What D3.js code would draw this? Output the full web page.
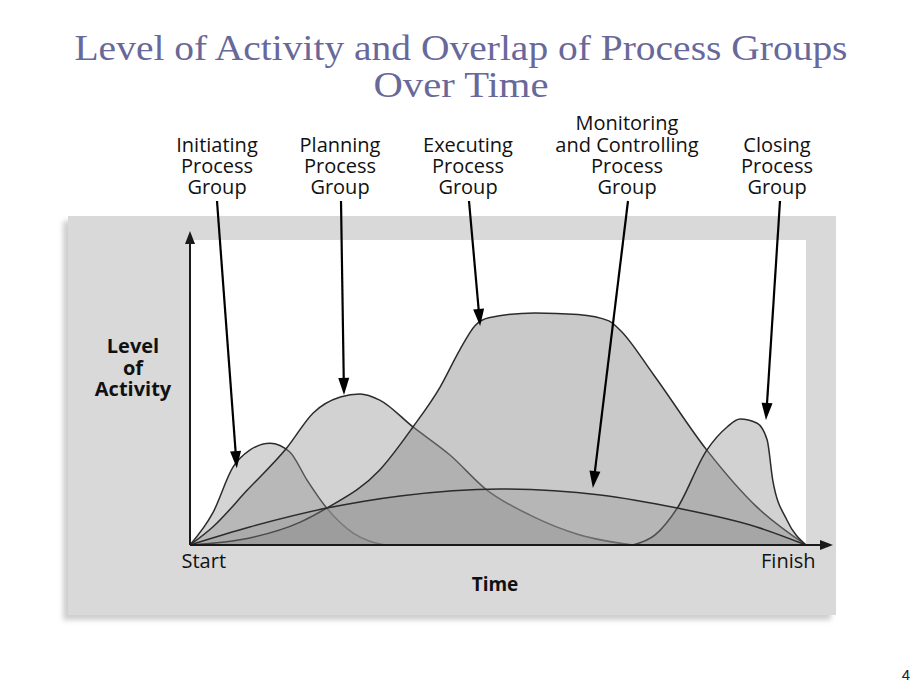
<!DOCTYPE html>
<html><head><meta charset="utf-8">
<script src="https://cdn.jsdelivr.net/npm/d3@7"></script>
<style>body{margin:0;background:#fff}</style></head>
<body><svg id="c" width="920" height="690"></svg>
<script>
// ---------------- data ----------------
const titleLines = ["Level of Activity and Overlap of Process Groups", "Over Time"];
const groupNames = ["Initiating", "Planning", "Executing", "Closing", "Monitoring"];
const labelLines = [
  ["Initiating", "Process", "Group"],
  ["Planning", "Process", "Group"],
  ["Executing", "Process", "Group"],
  ["Monitoring", "and Controlling", "Process", "Group"],
  ["Closing", "Process", "Group"]
];
const yAxisLabel = ["Level", "of", "Activity"];
const xAxisLabel = "Time";
const xTickLabels = ["Start", "Finish"];
const pageNumber = "4";

// time (0 = Start, 100 = Finish) and level of activity (0..100)
const initiatingTime  = [0, 3.7, 7.0, 9.7, 13.0, 16.2, 19.0, 22.2, 26.5, 31.7];
const initiatingLevel = [0, 10.5, 25.6, 31.1, 33.4, 30.5, 21.3, 12.1, 3.9, 0];

const planningTime  = [0, 3.7, 9.3, 15.7, 20.0, 24.4, 27.6, 30.8, 36.2, 42.2, 48.2, 55.2, 63.3, 71.9];
const planningLevel = [0, 5.9, 18.0, 31.8, 43.3, 48.5, 49.5, 47.5, 38.7, 29.5, 18.0, 9.8, 3.3, 0];

const executingTime  = [0, 9.7, 17.9, 22.2, 30.8, 36.2, 40.6, 43.8, 46.3, 48.5, 56.0, 63.0, 68.0, 69.8, 75.2, 83.9, 92.0, 100];
const executingLevel = [0, 2.3, 7.5, 12.1, 24.6, 38.7, 51.8, 64.0, 72.0, 74.5, 76.1, 75.6, 73.5, 70.5, 56.0, 31.1, 12.5, 0];

const closingTime  = [71.9, 75.5, 79.1, 83.9, 87.2, 89.3, 92.0, 93.7, 94.6, 96.9, 100];
const closingLevel = [0, 3.3, 12.1, 31.1, 38.7, 41.3, 40.0, 34.4, 21.3, 8.2, 0];

const monitoringTime  = [0, 9.7, 22.2, 34.1, 50.3, 66.6, 79.1, 92.0, 100];
const monitoringLevel = [0, 5.9, 12.1, 16.1, 18.4, 16.4, 12.1, 5.9, 0];

// arrow targets (label index order) in time / level units
const arrowTime  = [7.6, 25.0, 47.1, 65.4, 93.5];
const arrowLevel = [25.2, 49.2, 71.8, 18.7, 41.0];

// ---------------- layout ----------------
const svg = d3.select("#c");
const X0 = 190, X1 = 806, Y0 = 545, Y1 = 240;
const x = d3.scaleLinear().domain([0, 100]).range([X0, X1]);
const y = d3.scaleLinear().domain([0, 100]).range([Y0, Y1]);
const sans = "'Open Sans', 'Noto Sans', sans-serif";

// title
const titleWidths = [773, 175];
svg.selectAll("text.title").data(titleLines).join("text")
  .attr("class", "title")
  .attr("x", 461).attr("y", (d, i) => 60 + i * 37)
  .attr("text-anchor", "middle")
  .attr("font-family", "'Liberation Serif', 'DejaVu Serif', serif")
  .attr("font-size", 36)
  .attr("textLength", (d, i) => titleWidths[i])
  .attr("lengthAdjust", "spacingAndGlyphs")
  .attr("fill", "#68689a")
  .text(d => d);

// panel
const defs = svg.append("defs");
defs.append("filter").attr("id", "blur").append("feGaussianBlur").attr("stdDeviation", 2.5);
svg.append("rect").attr("x", 63).attr("y", 221).attr("width", 768).attr("height", 399)
  .attr("fill", "#cfcfcf").attr("filter", "url(#blur)");
svg.append("rect").attr("x", 68).attr("y", 216).attr("width", 768).attr("height", 399)
  .attr("fill", "#d9d9d9");
svg.append("rect").attr("x", X0).attr("y", Y1).attr("width", X1 - X0).attr("height", Y0 - Y1)
  .attr("fill", "#ffffff");

// areas
const series = [
  [initiatingTime, initiatingLevel],
  [planningTime, planningLevel],
  [executingTime, executingLevel],
  [closingTime, closingLevel],
  [monitoringTime, monitoringLevel]
];
const fillOpacity = [0.38, 0.4, 0.48, 0.4, 0.32];
const area = d3.area().x(d => x(d[0])).y0(y(0)).y1(d => y(d[1])).curve(d3.curveMonotoneX);
const line = d3.line().x(d => x(d[0])).y(d => y(d[1])).curve(d3.curveMonotoneX);
series.forEach(([t, v], i) => {
  const pts = t.map((tt, k) => [tt, v[k]]);
  const g = svg.append("g").attr("class", "grp-" + groupNames[i]);
  g.append("path").attr("d", area(pts)).attr("fill", "#8e8e8e").attr("fill-opacity", fillOpacity[i]);
  g.append("path").attr("d", line(pts)).attr("fill", "none")
    .attr("stroke", "#2b2b2b").attr("stroke-width", 1.5);
});

// axes
const xAxis = d3.axisBottom(x).tickValues([0, 100]).tickSize(0).tickPadding(9)
  .tickFormat((d, i) => xTickLabels[i]);
const xg = svg.append("g").attr("transform", `translate(0,${Y0})`).call(xAxis);
xg.select(".domain").remove();
xg.selectAll(".tick text")
  .attr("font-family", sans).attr("font-size", 20).attr("font-weight", 500)
  .attr("fill", "#111")
  .attr("text-anchor", (d, i) => i === 0 ? "start" : "end")
  .attr("dx", (d, i) => i === 0 ? -9 : 9);
svg.append("line").attr("x1", X0).attr("y1", Y0).attr("x2", 822).attr("y2", Y0)
  .attr("stroke", "#1a1a1a").attr("stroke-width", 2);
svg.append("path").attr("d", `M833,${Y0} L820,${Y0 - 5} L820,${Y0 + 5} Z`).attr("fill", "#1a1a1a");
svg.append("line").attr("x1", X0).attr("y1", Y0).attr("x2", X0).attr("y2", 243)
  .attr("stroke", "#1a1a1a").attr("stroke-width", 2);
svg.append("path").attr("d", `M${X0},231 L${X0 - 5},244 L${X0 + 5},244 Z`).attr("fill", "#1a1a1a");

svg.append("text").attr("x", 495).attr("y", 591).attr("text-anchor", "middle")
  .attr("font-family", sans).attr("font-size", 19)
  .attr("font-weight", "bold").attr("fill", "#111").text(xAxisLabel);
svg.selectAll("text.ylab").data(yAxisLabel).join("text").attr("class", "ylab")
  .attr("x", 133).attr("y", (d, i) => 353 + i * 21.5).attr("text-anchor", "middle")
  .attr("font-family", sans).attr("font-size", 20)
  .attr("font-weight", "bold").attr("fill", "#111").text(d => d);

// top labels + arrows
const labelX = [217, 340, 468, 627, 777];
const arrowStartX = [217, 341, 469, 628, 780];
labelLines.forEach((lines, i) => {
  const n = lines.length;
  svg.append("g").selectAll("text").data(lines).join("text")
    .attr("x", labelX[i]).attr("y", (d, k) => 194 - (n - 1 - k) * 21.2)
    .attr("text-anchor", "middle")
    .attr("font-family", sans).attr("font-size", 20).attr("font-weight", 500)
    .attr("fill", "#111").text(d => d);
  const sx = arrowStartX[i], sy = 201;
  const tx = x(arrowTime[i]), ty = y(arrowLevel[i]);
  const dx = tx - sx, dy = ty - sy, len = Math.hypot(dx, dy);
  const ux = dx / len, uy = dy / len, hl = 17, hw = 5.5;
  const bx = tx - ux * hl, by = ty - uy * hl;
  svg.append("line").attr("x1", sx).attr("y1", sy).attr("x2", bx + ux * 2).attr("y2", by + uy * 2)
    .attr("stroke", "#000").attr("stroke-width", 2.2);
  svg.append("path")
    .attr("d", `M${tx},${ty} L${bx - uy * hw},${by + ux * hw} L${bx + uy * hw},${by - ux * hw} Z`)
    .attr("fill", "#000");
});

svg.append("text").attr("x", 906).attr("y", 680).attr("text-anchor", "middle")
  .attr("font-family", "'Liberation Sans', Arial, sans-serif").attr("font-size", 15)
  .attr("fill", "#222").text(pageNumber);
</script></body></html>
